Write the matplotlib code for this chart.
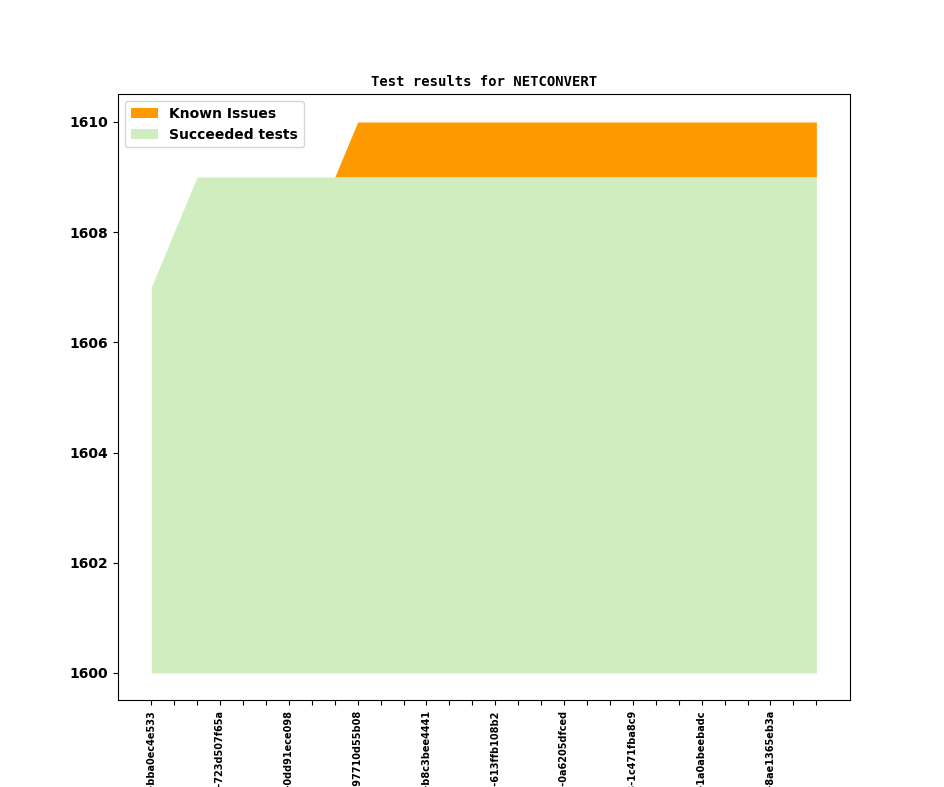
import numpy as np
import matplotlib
matplotlib.use("Agg")
import matplotlib.pyplot as plt

# commit labels (only every third one is printed)
hashes = [
    "bba0ec4e533", "", "", "723d507f65a", "", "", "0dd91ece098", "", "",
    "97710d55b08", "", "", "b8c3bee4441", "", "", "613ffb108b2", "", "",
    "0a6205dfced", "", "", "1c471fba8c9", "", "", "1a0abeebadc", "", "",
    "8ae1365eb3a", "", "",
]
builds = [1212, 0, 0, 1225, 0, 0, 1238, 0, 0, 1251, 0, 0, 1264, 0, 0,
          1277, 0, 0, 1290, 0, 0, 1303, 0, 0, 1316, 0, 0, 1329, 0, 0]
labels = ["v1_20_0+%04d-%s" % (b, h) if h else "" for b, h in zip(builds, hashes)]

succeeded = [1607, 1608] + [1609] * 28
known_issues = [0] * 9 + [1] * 21
base = 1600

x = np.arange(len(succeeded))
succ = np.array(succeeded)
total = succ + np.array(known_issues)

fig = plt.figure(figsize=(9.44, 7.87), dpi=100)
ax = fig.add_subplot(111)
ax.fill_between(x, succ, total, color="#ff9900", linewidth=0, label="Known Issues")
ax.fill_between(x, base, succ, color="#cfedbf", linewidth=0, label="Succeeded tests")

ax.set_title("Test results for NETCONVERT", fontfamily="DejaVu Sans Mono",
             fontweight="bold", fontsize=10)
ax.set_xticks(x)
ax.set_xticklabels(labels, rotation=90, fontsize=7, fontweight="bold")
for t in ax.get_yticklabels():
    t.set_fontweight("bold")
ax.legend(loc="upper left", prop={"weight": "bold", "size": 10})

fig.savefig("out.png", dpi=100)
